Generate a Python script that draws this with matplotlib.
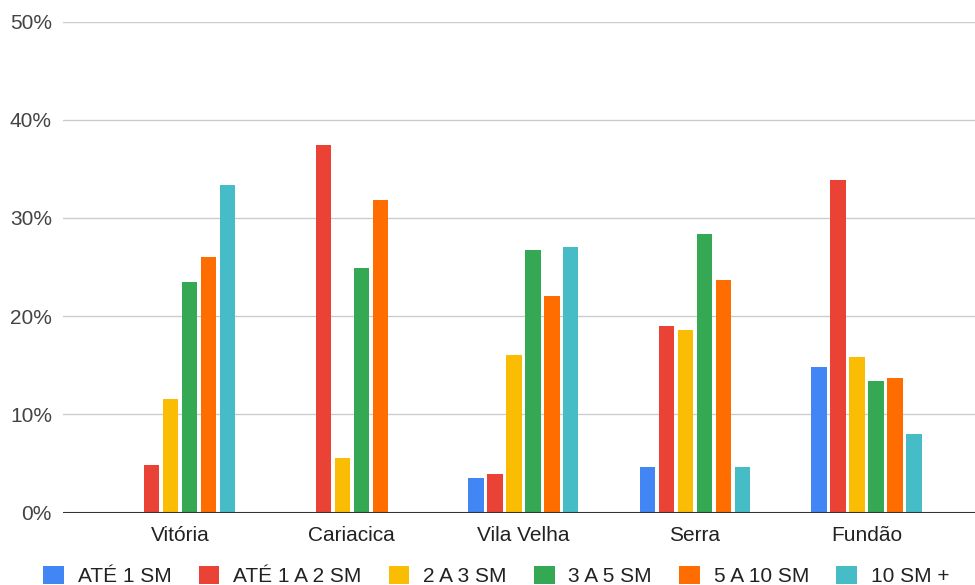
import matplotlib.pyplot as plt
from matplotlib.patches import Patch
from matplotlib.ticker import FuncFormatter, MultipleLocator
import numpy as np

plt.rcParams["font.family"] = ["Liberation Sans", "DejaVu Sans"]

cities = ["Vitória", "Cariacica", "Vila Velha", "Serra", "Fundão"]
bands = ["ATÉ 1 SM", "ATÉ 1 A 2 SM", "2 A 3 SM", "3 A 5 SM", "5 A 10 SM", "10 SM +"]
colors = ["#4285F4", "#EA4335", "#FBBC04", "#34A853", "#FF6D01", "#46BDC6"]

# share of households per income band (%)
ate_1 = [0, 0, 3.5, 4.6, 14.8]
ate_1_2 = [4.8, 37.4, 3.9, 19.0, 33.9]
de_2_3 = [11.6, 5.5, 16.0, 18.6, 15.8]
de_3_5 = [23.5, 24.9, 26.7, 28.4, 13.4]
de_5_10 = [26.0, 31.8, 22.0, 23.7, 13.7]
acima_10 = [33.3, 0, 27.0, 4.6, 8.0]
series = [ate_1, ate_1_2, de_2_3, de_3_5, de_5_10, acima_10]

fig = plt.figure(figsize=(9.75, 5.85), dpi=100)
ax = fig.add_axes([63 / 975, 1 - 512.5 / 585, 1 - 63 / 975, (512.5 - 21.5) / 585])

x = np.arange(len(cities))
step = 0.1107
width = 0.089
for i, (vals, col) in enumerate(zip(series, colors)):
    offs = (i - 2.5) * step
    ax.bar(x + offs, vals, width=width, color=col, zorder=3)

ax.set_xlim(-0.683, 4.632)
ax.set_ylim(0, 50)
ax.yaxis.set_major_locator(MultipleLocator(10))
ax.yaxis.set_major_formatter(FuncFormatter(lambda v, _: f"{v:.0f}%"))
ax.set_xticks(x)
ax.set_xticklabels(cities)

ax.grid(axis="y", color="#cccccc", linewidth=1, zorder=0)
ax.axhline(0, color="#333333", linewidth=1.5, zorder=4)
for s in ax.spines.values():
    s.set_visible(False)
ax.tick_params(axis="both", length=0, labelsize=15)
ax.tick_params(axis="y", pad=8, labelcolor="#444444")
ax.tick_params(axis="x", pad=10, labelcolor="#222222")

handles = [Patch(facecolor=c, edgecolor="none") for c in colors]
fig.legend(handles, bands, loc="center", bbox_to_anchor=(0.509, 0.016),
           ncol=6, frameon=False, fontsize=15, handlelength=0.99,
           handleheight=0.95, handletextpad=0.67, columnspacing=1.3,
           labelcolor="#222222")

fig.savefig("out.png", dpi=100)
